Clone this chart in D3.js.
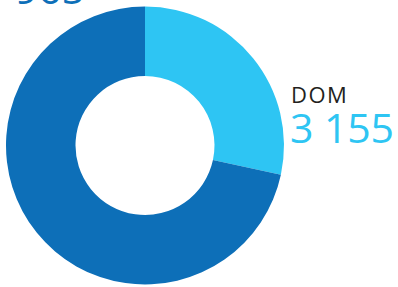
<!DOCTYPE html>
<html>
<head>
<meta charset="utf-8">
<script src="https://cdn.jsdelivr.net/npm/d3@7"></script>
<style>
  html, body { margin: 0; padding: 0; background: #fff; }
  svg { display: block; }
</style>
</head>
<body>
<div id="chart"></div>
<script>
// slices, clockwise from 12 o'clock
var categories = ["DOM", ""];
var values = [3155, 7965];
var valueLabels = ["3 155", "7 965"];
var colors = ["#2ec5f3", "#0d6fb8"];

var w = 398, h = 287;
var cx = 145, cy = 145.5;

var svg = d3.select("#chart").append("svg")
    .attr("width", w)
    .attr("height", h);

var pie = d3.pie().sort(null).value(function(d) { return d; });
var arc = d3.arc().innerRadius(69.5).outerRadius(139);

var g = svg.append("g").attr("transform", "translate(" + cx + "," + cy + ")");

g.selectAll("path")
    .data(pie(values))
    .enter().append("path")
    .attr("d", arc)
    .attr("fill", function(d, i) { return colors[i]; });

// DOM label (right side)
svg.append("text")
    .attr("x", 291)
    .attr("y", 103)
    .attr("font-family", "'Open Sans', sans-serif")
    .attr("font-size", 22)
    .attr("letter-spacing", 1.5)
    .attr("fill", "#231f20")
    .text(categories[0]);

svg.append("text")
    .attr("x", 290)
    .attr("y", 143)
    .attr("font-family", "'Open Sans', sans-serif")
    .attr("font-size", 41)
    .attr("textLength", 104)
    .attr("fill", colors[0])
    .text(valueLabels[0]);

// other value, cropped at the top edge
svg.append("text")
    .attr("x", 85)
    .attr("y", 4)
    .attr("text-anchor", "end")
    .attr("font-family", "'Open Sans', sans-serif")
    .attr("font-size", 41)
    .attr("fill", colors[1])
    .text(valueLabels[1]);
</script>
</body>
</html>
